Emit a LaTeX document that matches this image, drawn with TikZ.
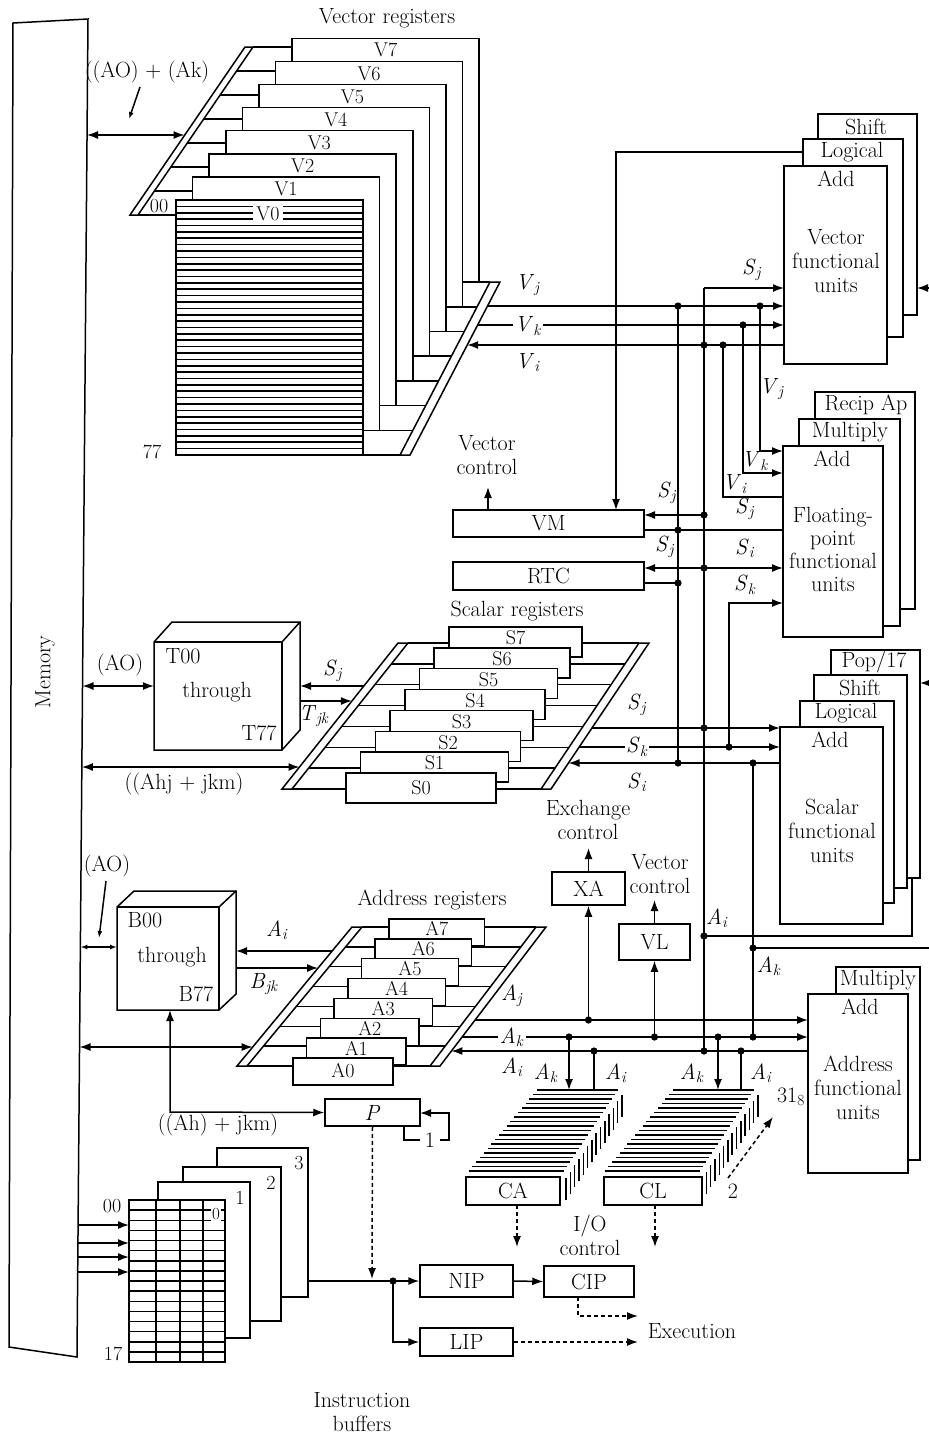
\documentclass[tikz,border=0pt]{standalone}
\usetikzlibrary{arrows.meta,fit}
\newcommand{\Rsb}[2]{\textit{#1}\textsubscript{\textit{#2}}}
\begin{document}
\begin{tikzpicture}[x=1pt,y=-1pt,
 >={Latex[length=11pt,width=8pt]},
 wire/.style={line width=1.5pt},
 arr/.style={wire,->},
 darr/.style={wire,<->},
 dsh/.style={wire,->,dash pattern=on 4pt off 3pt},
 box/.style={draw,line width=1.5pt,fill=white},
 fbox/.style={box,inner sep=0pt},
 lab/.style={font=\fontsize{22}{24}\selectfont,inner sep=0pt,align=center},
 rlab/.style={font=\fontsize{20}{22}\selectfont,inner sep=0pt},
 blab/.style={lab,fill=white,inner sep=1.5pt},
 hatch/.style={line width=1.7pt},
]
\fill[white] (0,0) rectangle (929,1433);
\useasboundingbox (0,0) rectangle (929,1433);

% ---------------- Memory
\draw[wire] (13,23) -- (88,19) -- (77,1357) -- (9,1347) -- cycle;
\node[lab,rotate=90] (mem) at (45,672) {Memory};

% ---------------- Vector registers
\node[lab] (vrt) at (387,18) {Vector registers};
\foreach \i in {7,...,1} {
  \draw[box] ({176+16.6*\i},{200-23.1*\i}) rectangle ({363+16.6*\i},{455-24.7*\i});
  \node[rlab] (V\i) at ({269.5+16.6*\i},{212-23.1*\i}) {V\i};
}
\draw[box] (176,200) rectangle (363,455);
\foreach \k in {0,...,40} \draw[hatch] (176,{200+6.375*\k}) -- (363,{200+6.375*\k});
\node[rlab,fill=white,inner xsep=3pt,inner ysep=1pt] (V0) at (268,214) {V0};
\foreach \i in {0,...,7} {
  \draw[wire] ({138+16.43*\i},{215-24*\i}) -- ({176+16.6*\i},{215-24*\i});
  \draw[wire] ({363+16.6*\i},{455-24.7*\i}) -- ({400+12.85*\i},{455-24.7*\i});
}
\draw[box] (130,215) -- (245,47) -- (253,47) -- (138,215) -- cycle;
\draw[box] (400,455) -- (490,282) -- (500,282) -- (410,455) -- cycle;
\node[rlab] (l00) at (159,206) {00};
\node[rlab] (l77) at (152,452) {77};
\node[lab] (aoak) at (147,72) {((AO) + (Ak)};
\draw[wire,-{Latex[length=7pt,width=5pt]}] (140,87) -- (129,119);
\draw[darr] (87,135) -- (184.5,135);

% ---------------- Vector functional units
\draw[box] (818,114) rectangle (917,315);
\draw[box] (803,139) rectangle (903,337);
\node[fbox,fit={(784,166) (887,364)}] (VAdd) {};
\node[lab] (vsh) at (866,127) {Shift};
\node[lab] (vlo) at (852,152) {Logical};
\node[lab] (vad) at (836,179) {Add};
\node[lab] (vfu) at (836,261) {Vector\\functional\\units};

% ---------------- Floating point functional units
\draw[box] (815,392) rectangle (915,609);
\draw[box] (799,419) rectangle (900,626);
\node[fbox,fit={(783,446) (883,637)}] (FAdd) {};
\node[lab] (frc) at (866,405) {Recip Ap};
\node[lab] (fmu) at (850,432) {Multiply};
\node[lab] (fad) at (832,459) {Add};
\node[font=\fontsize{22}{23}\selectfont,inner sep=0pt,align=center] (ffu) at (833,549) {Floating-\\point\\functional\\units};

% ---------------- VM, RTC
\node[fbox,fit={(453,510) (644,537)}] (VM) {};
\node[lab] at (VM) {VM};
\node[fbox,fit={(453,562) (644,590)}] (RTC) {};
\node[lab] at (RTC) {RTC};
\node[lab] (vc1) at (487,455) {Vector\\control};
\draw[arr] (488,510) -- (488,487);

% ---------------- wires of vector section
\draw[arr] (803,152) -- (616,152) -- (616,510);
\draw[arr] (704,288) -- (784,288);
\draw[arr] (487.5,306) -- (784,306);
\draw[arr] (477.6,325) -- (784,325);
\draw[arr] (784,345) -- (467.2,345);
\draw[wire] (678,306) -- (678,763);
\draw[wire] (704,288) -- (704,1051);
\draw[wire] (723,345) -- (723,497) -- (783,497);
\draw[arr] (743,325) -- (743,473) -- (783,473);
\draw[arr] (760,306) -- (760,451) -- (783,451);
\draw[arr] (704,515) -- (644,515);
\draw[wire] (644,530) -- (783,530);
\draw[darr] (644,568) -- (783,568);
\draw[wire] (644,583) -- (678,583);
\draw[arr] (729,747) -- (729,603) -- (783,603);
\draw[arr] (929,288) -- (917,288);
\node[lab] (lvj) at (528,285) {\Rsb{V}{j}};
\node[blab] (lvk) at (528,326) {\Rsb{V}{k}};
\node[lab] (lvi) at (528,363) {\Rsb{V}{i}};
\node[lab] (lsj1) at (752,270) {\Rsb{S}{j}};
\node[lab] (lvj2) at (772,389) {\Rsb{V}{j}};
\node[lab] (lvk2) at (755,461) {\Rsb{V}{k}};
\node[lab] (lvi2) at (735,484) {\Rsb{V}{i}};
\node[lab] (lsj2) at (667,493) {\Rsb{S}{j}};
\node[lab] (lsj3) at (745,509) {\Rsb{S}{j}};
\node[lab] (lsj4) at (665,547) {\Rsb{S}{j}};
\node[lab] (lsi1) at (745,548) {\Rsb{S}{i}};
\node[lab] (lsk1) at (745,585) {\Rsb{S}{k}};

% ---------------- T registers
\draw[box] (154,642) -- (172,622) -- (300,622) -- (300,730) -- (282,750) -- (154,750) -- cycle;
\draw[wire] (154,642) -- (282,642) -- (282,750);
\draw[wire] (282,642) -- (300,622);
\node[lab] (t00) at (183,656) {T00};
\node[lab] (tth) at (217,692) {through};
\node[lab] (t77) at (259,733) {T77};
\node[lab] (tao) at (120,665) {(AO)};
\draw[darr] (82.5,686) -- (154,686);
\node[lab] (ahj) at (184,784) {((Ahj + jkm)};
\draw[darr] (81.9,767) -- (299.5,767);
\draw[arr] (363.8,686) -- (300,686);
\draw[arr] (300,701) -- (351.9,701);
\node[lab] (lsjt) at (333,671) {\Rsb{S}{j}};
\node[lab] (ltjk) at (314,716) {\Rsb{T}{jk}};

% ---------------- Scalar registers
\node[lab] (srt) at (517,611) {Scalar registers};
\foreach \i in {7,...,0} {
  \pgfmathsetmacro\yy{789-20.857*\i}
  \pgfmathsetmacro\ly{\i==0 ? \yy-1 : \yy-5}
  \draw[box] ({346+14.7*\i},{\yy-16}) rectangle ({496+12.3*\i},{\yy+14});
  \node[rlab] (S\i) at ({421+13.5*\i},\ly) {S\i};
}
\foreach \i in {0,...,7} {
  \pgfmathsetmacro\yy{789-20.857*\i}
  \draw[wire] ({292+16.57*\i},\yy) -- ({346+14.7*\i},\yy);
  \draw[wire] ({496+12.3*\i},\yy) -- ({541+14.0*\i},\yy);
}
\draw[box] (282,789) -- (398,643) -- (408,643) -- (292,789) -- cycle;
\draw[box] (541,789) -- (639,643) -- (649,643) -- (551,789) -- cycle;

% ---------------- Scalar functional units
\draw[box] (831,650) rectangle (920,878);
\draw[box] (814,675) rectangle (907,888);
\draw[box] (800,701) rectangle (894,903);
\node[fbox,fit={(780,727) (883,924)}] (SAdd) {};
\node[lab] (spo) at (874,662) {Pop/17};
\node[lab] (ssh) at (860,688) {Shift};
\node[lab] (slo) at (846,713) {Logical};
\node[lab] (sad) at (830,740) {Add};
\node[lab] (sfu) at (832,831) {Scalar\\functional\\units};

\draw[arr] (591.9,728) -- (780,728);
\draw[arr] (579.2,747) -- (780,747);
\draw[arr] (780,763) -- (568.5,763);
\draw[wire] (753,763) -- (753,1037);
\draw[wire] (704,936) -- (912,936) -- (912,878);
\draw[wire] (753,948) -- (929,948);
\draw[arr] (929,683) -- (920,683);
\node[lab] (lsj5) at (637,705) {\Rsb{S}{j}};
\node[blab] (lsk5) at (637,747) {\Rsb{S}{k}};
\node[lab] (lsi5) at (637,782) {\Rsb{S}{i}};
\node[lab] (lai1) at (717,918) {\Rsb{A}{i}};
\node[lab] (lak1) at (769,966) {\Rsb{A}{k}};

% ---------------- Exchange / VL
\node[lab] (exc) at (588,820) {Exchange\\control};
\node[fbox,fit={(552,872) (625,905)}] (XA) {};
\node[lab] at (XA) {XA};
\draw[arr] (XA.north) -- (588.5,848);
\node[lab] (vc2) at (660,874) {Vector\\control};
\node[fbox,fit={(619,924) (690,960)}] (VL) {};
\node[lab] at (VL) {VL};
\draw[arr] (VL.north) -- (654.5,900);

% ---------------- B registers
\draw[box] (117,907) -- (134,891) -- (236,891) -- (236,994) -- (219,1010) -- (117,1010) -- cycle;
\draw[wire] (117,907) -- (219,907) -- (219,1010);
\draw[wire] (219,907) -- (236,891);
\node[lab] (b00) at (145,920) {B00};
\node[lab] (bth) at (172,957) {through};
\node[lab] (b77) at (196,994) {B77};
\node[lab] (bao) at (107,866) {(AO)};
\draw[wire,-{Latex[length=7pt,width=5pt]}] (106,881) -- (99,938);
\draw[wire,{Latex[length=7pt,width=5pt]}-{Latex[length=7pt,width=5pt]}] (80.4,947) -- (117,947);
\draw[arr] (332.1,951) -- (236,951);
\draw[arr] (236,968) -- (318.1,968);
\node[lab] (laib) at (277,930) {\Rsb{A}{i}};
\node[lab] (lbjk) at (264,984) {\Rsb{B}{jk}};
\draw[darr] (79.5,1047) -- (252.7,1047);

% ---------------- Address registers
\node[lab] (art) at (432,900) {Address registers};
\foreach \i in {7,...,0} {
  \pgfmathsetmacro\yy{1066-19.857*\i}
  \pgfmathsetmacro\ly{\i==0 ? \yy+5 : \yy+2}
  \draw[box] ({293+13.7*\i},{\yy-8}) rectangle ({393+13.1*\i},{\yy+19});
  \node[rlab] (A\i) at ({343+13.4*\i},\ly) {A\i};
}
\foreach \i in {0,...,7} {
  \pgfmathsetmacro\yy{1066-19.857*\i}
  \draw[wire] ({247+16.43*\i},\yy) -- ({293+13.7*\i},\yy);
  \draw[wire] ({393+13.1*\i},\yy) -- ({430+15.14*\i},\yy);
}
\draw[box] (237,1066) -- (352,927) -- (362,927) -- (247,1066) -- cycle;
\draw[box] (430,1066) -- (536,927) -- (546,927) -- (440,1066) -- cycle;

% ---------------- Address functional units
\draw[box] (836,967) rectangle (920,1160);
\node[fbox,fit={(808,994) (908,1173)}] (AAdd) {};
\node[lab] (amu) at (878,980) {Multiply};
\node[lab] (aad) at (860,1007) {Add};
\node[lab] (afu) at (858,1088) {Address\\functional\\units};

\draw[arr] (475.1,1020) -- (808,1020);
\draw[arr] (462.1,1037) -- (808,1037);
\draw[arr] (808,1051) -- (451.4,1051);
\draw[arr] (588.5,1020) -- (XA.south);
\draw[arr] (654.5,1037) -- (VL.south);
\node[lab] (laj) at (512,996) {\Rsb{A}{j}};
\node[blab] (lak) at (512,1037) {\Rsb{A}{k}};
\node[lab] (lai) at (512,1067) {\Rsb{A}{i}};

% ---------------- CA / CL stacks
\foreach \o in {0,136} {
  \foreach \k in {0,...,18}
    \draw[hatch] ({537-3.8*\k+\o},{1090+4.5*\k}) -- ({618-3.0*\k+\o},{1090+4.5*\k});
  \foreach \k in {0,...,13}
    \draw[wire] ({622-4.3*\k+\o},{1095+6.4*\k}) -- ({622-4.3*\k+\o},{1117+6.4*\k});
}
\node[fbox,fit={(466,1177) (560,1205)}] (CA) {};
\node[lab] at (CA) {CA};
\node[fbox,fit={(604,1177) (702,1205)}] (CL) {};
\node[lab] at (CL) {CL};
\draw[arr] (569,1037) -- (569,1090);
\draw[wire] (594,1051) -- (594,1090);
\draw[arr] (718,1037) -- (718,1090);
\draw[wire] (741,1051) -- (741,1090);
\node[lab] (lak2) at (546,1073) {\Rsb{A}{k}};
\node[lab] (lai2) at (616,1073) {\Rsb{A}{i}};
\node[lab] (lak3) at (692,1073) {\Rsb{A}{k}};
\node[lab] (lai3) at (761,1073) {\Rsb{A}{i}};
\draw[dsh] (728,1178) -- (773,1117);
\node[lab] (l318) at (791,1097) {31\textsubscript{8}};
\node[lab] (l2) at (733,1191) {2};
\draw[dsh] (517,1205) -- (517,1247);
\draw[dsh] (655,1205) -- (655,1247);
\node[lab] (ioc) at (590,1235) {I/O\\control};

% ---------------- P register
\node[fbox,fit={(325,1099) (420,1126)}] (P) {};
\node[lab] at (P) {\textit{P}};
\draw[darr] (170,1010) -- (170,1112) -- (P.west);
\node[lab] (ahjk) at (218,1125) {((Ah) + jkm)};
\draw[wire] (404,1126) -- (404,1140) -- (420,1140);
\node[lab] (l1) at (430,1140) {1};
\draw[arr] (440,1140) -- (449,1140) -- (449,1113) -- (420,1113);

% ---------------- Instruction buffers
\draw[box] (217,1148) rectangle (308,1297);
\node[rlab] (ib3) at (299,1163) {3};
\draw[box] (183,1167) rectangle (281,1321);
\node[rlab] (ib2) at (271,1183) {2};
\draw[box] (158,1182) rectangle (250,1338);
\node[rlab] (ib1) at (240,1198) {1};
\draw[box] (129,1200) rectangle (225,1362);
\foreach \c in {156,180,203} \draw[wire] (\c,1200) -- (\c,1362);
\foreach \r in {1,...,15} \draw[wire] (129,{1200+10.125*\r}) -- (225,{1200+10.125*\r});
\node[font=\fontsize{17}{18}\selectfont,inner sep=1pt,fill=white] (ib0) at (216,1214) {0};
\node[rlab] (l00b) at (112,1206) {00};
\node[rlab] (l17) at (113,1354) {17};
\foreach \y/\x in {1225/78.1,1243/77.9,1257/77.8,1272/77.7} \draw[arr] (\x,\y) -- (129,\y);
\node[lab] (ibt) at (362,1412) {Instruction\\buffers};

\node[fbox,fit={(420,1265) (513,1297)}] (NIP) {};
\node[lab] at (NIP) {NIP};
\node[fbox,fit={(544,1266) (634,1297)}] (CIP) {};
\node[lab] at (CIP) {CIP};
\node[fbox,fit={(420,1328) (513,1356)}] (LIP) {};
\node[lab] at (LIP) {LIP};
\coordinate (J) at (393,1281);
\draw[wire] (308,1281) -- (J);
\draw[arr] (J) -- (NIP.west);
\draw[arr] (J) -- (393,1342) -- (LIP.west);
\draw[dsh] (P.south) -- (372,1279);
\draw[arr] (NIP.east) -- (CIP.west);
\draw[dsh] (578,1297) -- (578,1316) -- (638,1316);
\draw[dsh] (LIP.east) -- (638,1342);
\node[lab] (exe) at (692,1331) {Execution};

% ---------------- junction dots
\foreach \p in {(678,306),(760,306),(743,325),(704,345),(723,345),
  (704,515),(678,530),(704,568),(678,583),
  (704,728),(729,747),(678,763),(753,763),(704,936),(753,948),
  (588.5,1020),(569,1037),(654.5,1037),(718,1037),(753,1037),
  (594,1051),(704,1051),(741,1051),(393,1281)}
  \fill \p circle (3.6pt);
\end{tikzpicture}
\end{document}
